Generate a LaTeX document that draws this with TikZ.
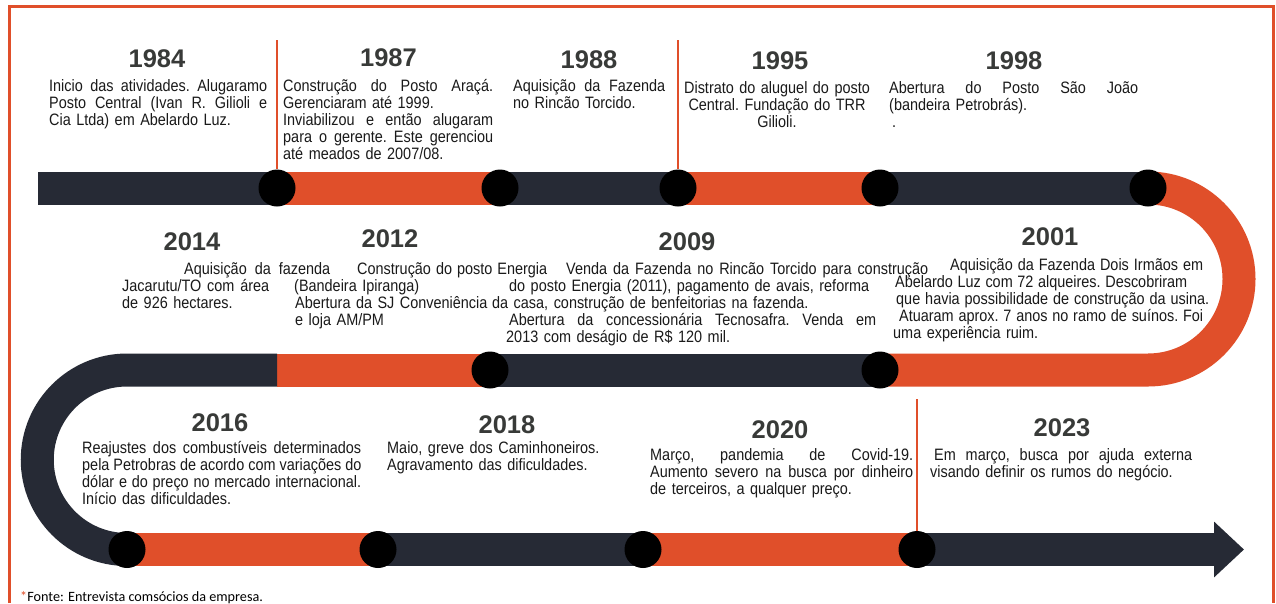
\documentclass[tikz,border=0pt]{standalone}
\usepackage{fontspec}
\setmainfont{Liberation Sans}
\newfontfamily\narrowsans[FakeStretch=0.875]{Liberation Sans}
\newfontfamily\notesans{Carlito}
\usetikzlibrary{arrows.meta, backgrounds}
\definecolor{orng}{HTML}{E04F2A}
\definecolor{navy}{HTML}{262A35}
\definecolor{yeargray}{HTML}{383A38}
\definecolor{txtgray}{HTML}{1A1A1A}
\newcommand{\yearfont}{\bfseries\fontsize{25.5}{26}\selectfont}
\newcommand{\txtfont}{\narrowsans\fontsize{16.5}{17}\selectfont\frenchspacing}
\newcommand{\spreadline}[2]{\makebox[#1pt][s]{\spaceskip=\fontdimen2\font plus 1fil\relax\xspaceskip=\spaceskip #2}}
\tikzstyle{dot}=[circle, fill=black, inner sep=0pt, minimum size=37pt]
\tikzstyle{year}=[font=\yearfont, text=yeargray, inner sep=0pt]
\tikzstyle{txt}=[font=\txtfont, text=txtgray, align=left, text width=420pt, inner sep=0pt, anchor=base west]
\tikzstyle{track}=[line width=33pt, line cap=butt]
\tikzstyle{vline}=[draw=orng, line width=1.3pt]

\begin{document}
\begin{tikzpicture}[x=1pt, y=1pt]
    \useasboundingbox (0,-603) rectangle (1276,0);

    % dots on the three rows
    \node[dot] (t1) at (277,-188) {};
    \node[dot] (t2) at (500,-188) {};
    \node[dot] (t3) at (678,-188) {};
    \node[dot] (t4) at (880,-188) {};
    \node[dot] (t5) at (1148,-188) {};
    \node[dot] (m1) at (490,-370) {};
    \node[dot] (m2) at (880,-370) {};
    \node[dot] (b0) at (127,-549.5) {};
    \node[dot] (b1) at (378,-549.5) {};
    \node[dot] (b2) at (643,-549.5) {};
    \node[dot] (b3) at (917,-549.5) {};

    \coordinate (s0) at (38,-188);
    \coordinate (mc) at (277,-370);
    \coordinate (ml) at (127,-370);
    \coordinate (tip) at (1244,-549.5);
    \coordinate (v1) at (277,-40);
    \coordinate (v2) at (678,-40);
    \coordinate (v3) at (917,-399);

    \begin{pgfonlayer}{background}
    \fill[white] (0,-603) rectangle (1276,0);
    \draw[track, navy] (s0) -- (t1.center);
    \draw[track, orng] (t1.center) -- (t2.center);
    \draw[track, navy] (t2.center) -- (t3.center);
    \draw[track, orng] (t3.center) -- (t4.center);
    \draw[track, navy] (t4.center) -- (t5.center);
    \draw[track, orng] (t5.center) arc (90:-90:91) -- (m2.center);
    \draw[track, navy] (m2.center) -- (m1.center);
    \draw[track, orng] (m1.center) -- (mc);
    \draw[track, navy] (mc) -- (ml) arc (90:270:89.75);
    \draw[track, orng] (b0.center) -- (b1.center);
    \draw[track, navy] (b1.center) -- (b2.center);
    \draw[track, orng] (b2.center) -- (b3.center);
    \draw[track, navy, -{Triangle[length=30pt, width=54pt]}] (b3.center) -- (tip);
    \end{pgfonlayer}

    \draw[vline] (v1) -- (t1);
    \draw[vline] (v2) -- (t3);
    \draw[vline] (v3) -- (b3);

    % frame
    \draw[orng, line width=3pt] (9.5,-603) |- (1273,-6) -- (1273,-603);

    % top row
    \node[year] (y1984) at (157,-59) {1984};
    \node[txt] (n1984) at (49,-91) {\spreadline{218}{Inicio das atividades. Alugaramo}\\
        \spreadline{218}{Posto Central (Ivan R. Gilioli e}\\
        Cia Ltda) em Abelardo Luz.};
    \node[year] (y1987) at (388.5,-58) {1987};
    \node[txt] (n1987) at (283,-91) {\spreadline{210}{Construção do Posto Araçá.}\\
        Gerenciaram até 1999.\\
        \spreadline{210}{Inviabilizou e então alugaram}\\
        \spreadline{210}{para o gerente. Este gerenciou}\\
        até meados de 2007/08.};
    \node[year] (y1988) at (589,-60) {1988};
    \node[txt] (n1988) at (513,-91) {\spreadline{152}{Aquisição da Fazenda}\\
        no Rincão Torcido.};
    \node[year] (y1995) at (780,-61) {1995};
    \node[txt, align=center, text width=200pt, anchor=base] (n1995) at (777,-93) {Distrato do aluguel do posto\\
        Central. Fundação do TRR\\
        Gilioli.};
    \node[year] (y1998) at (1014,-61) {1998};
    \node[txt] (n1998) at (889,-93) {\spreadline{249}{Abertura do Posto São João}\\
        (bandeira Petrobrás).\\
        \hspace*{3pt}.};

    % middle row
    \node[year] (y2014) at (192,-242) {2014};
    \node[txt] (n2014) at (122,-274) {\hspace*{62pt}\spreadline{146}{Aquisição da fazenda}\\
        \spreadline{147}{Jacarutu/TO com área}\\
        de 926 hectares.};
    \node[year] (y2012) at (390,-239) {2012};
    \node[txt] (n2012) at (294,-274) {\hspace*{63pt}\spreadline{190}{Construção do posto Energia}\\
        (Bandeira Ipiranga)\\
        \hspace*{1pt}Abertura da SJ Conveniência\\
        \hspace*{1pt}e loja AM/PM};
    \node[year] (y2009) at (687,-242) {2009};
    \node[txt] (n2009) at (489,-274) {\hspace*{77pt}\spreadline{362}{Venda da Fazenda no Rincão Torcido para construção}\\
        \hspace*{20pt}\spreadline{360}{do posto Energia (2011), pagamento de avais, reforma}\\
        \hspace*{3pt}da casa, construção de benfeitorias na fazenda.\\
        \hspace*{20pt}\spreadline{367}{Abertura da concessionária Tecnosafra. Venda em}\\
        \hspace*{17pt}2013 com deságio de R\$ 120 mil.};
    \node[year] (y2001) at (1050,-237) {2001};
    \node[txt] (n2001) at (893,-270) {\hspace*{57pt}\spreadline{253}{Aquisição da Fazenda Dois Irmãos em}\\
        \hspace*{2pt}\spreadline{292}{Abelardo Luz com 72 alqueires. Descobriram}\\
        \hspace*{3pt}\spreadline{313}{que havia possibilidade de construção da usina.}\\
        \hspace*{6pt}\spreadline{304}{Atuaram aprox. 7 anos no ramo de suínos. Foi}\\
        uma experiência ruim.};

    % bottom row
    \node[year] (y2016) at (220,-423) {2016};
    \node[txt] (n2016) at (82,-453) {\spreadline{279}{Reajustes dos combustíveis determinados}\\
        \spreadline{279}{pela Petrobras de acordo com variações do}\\
        \spreadline{279}{dólar e do preço no mercado internacional.}\\
        Início das dificuldades.};
    \node[year] (y2018) at (507,-425) {2018};
    \node[txt] (n2018) at (387,-453) {Maio, greve dos Caminhoneiros.\\
        Agravamento das dificuldades.};
    \node[year] (y2020) at (780,-430) {2020};
    \node[txt] (n2020) at (650,-460) {\spreadline{263}{Março, pandemia de Covid-19.}\\
        \spreadline{263}{Aumento severo na busca por dinheiro}\\
        de terceiros, a qualquer preço.};
    \node[year] (y2023) at (1062,-428) {2023};
    \node[txt] (n2023) at (930,-460) {\hspace*{4pt}\spreadline{258}{Em março, busca por ajuda externa}\\
        visando definir os rumos do negócio.};

    \node[anchor=base west, inner sep=0pt, font=\notesans\fontsize{14.2}{15}\selectfont] (fonte) at (20,-601) {\textcolor{orng}{*}Fonte: Entrevista comsócios da empresa.};

  \end{tikzpicture}
\end{document}
